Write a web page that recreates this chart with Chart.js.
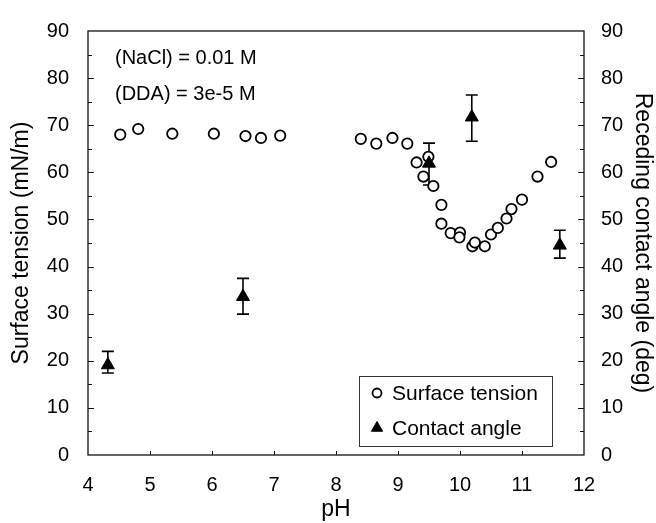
<!DOCTYPE html>
<html>
<head>
<meta charset="utf-8">
<script src="https://cdn.jsdelivr.net/npm/chart.js@4/dist/chart.umd.min.js"></script>
<style>
  html, body { margin: 0; padding: 0; background: #fff; }
</style>
</head>
<body>
<canvas id="phChart" width="656" height="523"></canvas>
<script>
// surface tension (open circles, left axis)
const stPH = [4.52, 4.81, 5.36, 6.03, 6.54, 6.79, 7.10, 8.40, 8.65, 8.91, 9.15, 9.30, 9.41, 9.49,
              9.57, 9.70, 9.70, 9.85, 10.00, 9.99, 10.20, 10.24, 10.40, 10.50, 10.61, 10.75, 10.83,
              11.00, 11.25, 11.47];
const stValues = [68.0, 69.2, 68.2, 68.2, 67.7, 67.3, 67.8, 67.1, 66.1, 67.3, 66.1, 62.1, 59.1, 63.3,
                  57.1, 53.1, 49.1, 47.1, 47.2, 46.2, 44.3, 45.1, 44.3, 46.8, 48.2, 50.2, 52.2,
                  54.2, 59.1, 62.2];

// receding contact angle (filled triangles, right axis) with error bars
const caPH = [4.32, 6.50, 9.50, 10.19, 11.61];
const caValues = [19.1, 33.6, 61.9, 71.7, 44.5];
const caLow = [17.4, 29.9, 57.3, 66.6, 41.8];
const caHigh = [22.0, 37.5, 66.2, 76.4, 47.7];

const xTicks = [4, 5, 6, 7, 8, 9, 10, 11, 12];
const yTicks = [0, 10, 20, 30, 40, 50, 60, 70, 80, 90];
const notes = ['(NaCl) = 0.01 M', '(DDA) = 3e-5 M'];

const FONT = '"Liberation Sans", Arial, Helvetica, sans-serif';
Chart.defaults.color = '#000';
Chart.defaults.font.family = FONT;

const setTicks = list => scale => { scale.ticks = list.map(v => ({ value: v })); };

// frame, inward ticks, error bars, notes and legend
const decor = {
    id: 'decor',
    beforeDatasetsDraw(chart) {
        const ctx = chart.ctx;
        const x = chart.scales.x, y2 = chart.scales.y2;
        ctx.save();
        ctx.strokeStyle = '#000';
        ctx.lineWidth = 1.6;
        caPH.forEach((p, i) => {
            const px = x.getPixelForValue(p);
            const top = y2.getPixelForValue(caHigh[i]);
            const bot = y2.getPixelForValue(caLow[i]);
            ctx.beginPath();
            ctx.moveTo(px, top); ctx.lineTo(px, bot);
            ctx.moveTo(px - 6, top); ctx.lineTo(px + 6, top);
            ctx.moveTo(px - 6, bot); ctx.lineTo(px + 6, bot);
            ctx.stroke();
        });
        ctx.restore();
    },
    afterDatasetsDraw(chart) {
        const ctx = chart.ctx;
        const a = chart.chartArea;
        const { x, y, y2 } = chart.scales;
        ctx.save();
        ctx.strokeStyle = '#111';
        ctx.lineWidth = 1.3;
        ctx.strokeRect(a.left, a.top, a.right - a.left, a.bottom - a.top);

        ctx.lineWidth = 1;
        ctx.beginPath();
        for (let v = 5; v < 90; v += 5) {
            const len = v % 10 === 0 ? 6 : 4;
            const py = Math.round(y.getPixelForValue(v)) + 0.5;
            ctx.moveTo(a.left, py); ctx.lineTo(a.left + len, py);
            const py2 = Math.round(y2.getPixelForValue(v)) + 0.5;
            ctx.moveTo(a.right, py2); ctx.lineTo(a.right - len, py2);
        }
        xTicks.slice(1, -1).forEach(v => {
            const px = Math.round(x.getPixelForValue(v)) + 0.5;
            ctx.moveTo(px, a.bottom); ctx.lineTo(px, a.bottom - 4);
        });
        ctx.stroke();

        // notes
        ctx.fillStyle = '#000';
        ctx.font = '20px ' + FONT;
        ctx.textBaseline = 'middle';
        ctx.textAlign = 'left';
        ctx.fillText(notes[0], a.left + 27, a.top + 27);
        ctx.fillText(notes[1], a.left + 27, a.top + 63);

        // legend
        const bw = 193, bh = 70;
        const bx = a.right - 32 - bw, by = a.bottom - 9 - bh;
        ctx.fillStyle = '#fff';
        ctx.fillRect(bx, by, bw, bh);
        ctx.strokeStyle = '#333';
        ctx.lineWidth = 1;
        ctx.strokeRect(bx + 0.5, by + 0.5, bw, bh);
        ctx.font = '21px ' + FONT;
        const order = [1, 0];
        order.forEach((di, row) => {
            const ds = chart.data.datasets[di];
            const cy = by + 17 + row * 35;
            ctx.fillStyle = ds.backgroundColor;
            ctx.strokeStyle = ds.borderColor;
            ctx.lineWidth = ds.borderWidth;
            Chart.helpers.drawPoint(ctx, {
                pointStyle: ds.pointStyle,
                radius: ds.pointStyle === 'triangle' ? 6.5 : 4.5,
                rotation: 0,
                borderWidth: ds.borderWidth
            }, bx + 18, cy);
            ctx.fillStyle = '#000';
            ctx.fillText(ds.label, bx + 33, cy + 1);
        });
        ctx.restore();
    }
};

new Chart(document.getElementById('phChart'), {
    type: 'scatter',
    data: {
        datasets: [{
            label: 'Contact angle',
            data: caPH.map((p, i) => ({ x: p, y: caValues[i] })),
            yAxisID: 'y2',
            pointStyle: 'triangle',
            pointRadius: 7.5,
            pointHoverRadius: 7.5,
            backgroundColor: '#000',
            borderColor: '#000',
            borderWidth: 1,
            order: 0
        }, {
            label: 'Surface tension',
            data: stPH.map((p, i) => ({ x: p, y: stValues[i] })),
            yAxisID: 'y',
            pointStyle: 'circle',
            pointRadius: 5.2,
            pointHoverRadius: 5.2,
            backgroundColor: '#fff',
            borderColor: '#000',
            borderWidth: 1.8,
            order: 1
        }]
    },
    options: {
        responsive: false,
        animation: false,
        events: [],
        layout: { padding: { top: 26, left: 0, right: 0, bottom: 0 } },
        plugins: { legend: { display: false }, tooltip: { enabled: false } },
        scales: {
            x: {
                type: 'linear', position: 'bottom', min: 4, max: 12,
                afterBuildTicks: setTicks(xTicks),
                afterFit: s => { s.height = 68; },
                grid: { display: false, drawTicks: false },
                border: { display: false },
                ticks: { font: { size: 20 }, padding: 18, maxRotation: 0 },
                title: { display: true, text: 'pH', font: { size: 23 }, padding: 0 }
            },
            y: {
                position: 'left', min: 0, max: 90,
                afterBuildTicks: setTicks(yTicks),
                afterFit: s => { s.width = 88; },
                grid: { display: false, drawTicks: false },
                border: { display: false },
                ticks: { font: { size: 20 }, padding: 19 },
                title: { display: true, text: 'Surface tension (mN/m)', font: { size: 23 }, padding: { top: 8, bottom: 0 } }
            },
            y2: {
                position: 'right', min: 0, max: 90,
                afterBuildTicks: setTicks(yTicks),
                afterFit: s => { s.width = 72; },
                grid: { display: false, drawTicks: false },
                border: { display: false },
                ticks: { font: { size: 20 }, padding: 17 },
                title: { display: true, text: 'Receding contact angle (deg)', font: { size: 23 }, padding: 0 }
            }
        }
    },
    plugins: [decor]
});
</script>
</body>
</html>
